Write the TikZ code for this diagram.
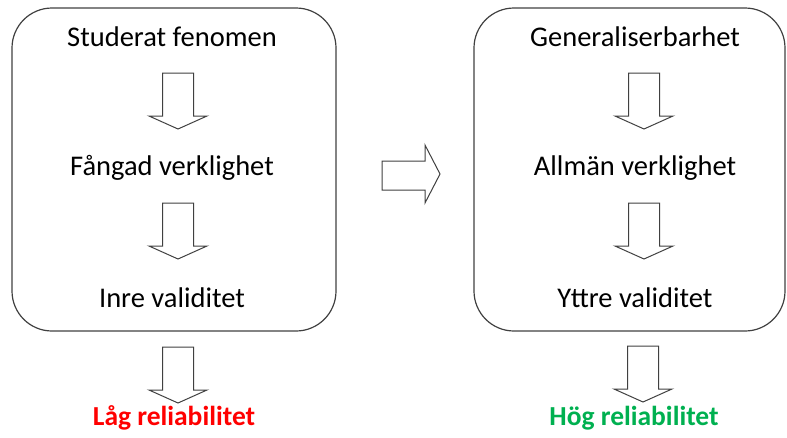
\documentclass[tikz,border=0pt]{standalone}
\usepackage{fontspec}
\setmainfont{Carlito}
\definecolor{lowred}{HTML}{FF0000}
\definecolor{highgreen}{HTML}{00B050}
\definecolor{frame}{HTML}{404040}
\begin{document}
\begin{tikzpicture}[x=1pt,y=-1pt,
  panel/.style={draw=frame,line width=1.2pt,rounded corners=40pt},
  label/.style={font=\fontsize{28.5}{32}\selectfont,inner sep=0pt,anchor=center},
  result/.style={font=\bfseries\fontsize{27.5}{31}\selectfont,inner sep=0pt,anchor=center},
  blockarrow/.style={draw=frame,line width=1pt,line join=miter,fill=white}]
\useasboundingbox (0,0) rectangle (787,437);

% downward block arrow: centre x, top y
\newcommand\downblock[2]{%
  \draw[blockarrow] (#1-15.5,#2) -- (#1+15.5,#2) -- (#1+15.5,#2+43) -- (#1+29,#2+43)
    -- (#1,#2+56) -- (#1-29,#2+43) -- (#1-15.5,#2+43) -- cycle;}

% the two panels
\draw[panel] (12,8) rectangle (336,331);
\draw[panel] (474,8) rectangle (785,331);

% left panel
\node[label] (stud) at (172,37) {Studerat fenomen};
\node[label] (fang) at (172,168) {Fångad verklighet};
\node[label] (inre) at (172,298) {Inre validitet};
\downblock{178}{73}
\downblock{178}{203}

% right panel
\node[label] (gen) at (635,37) {Generaliserbarhet};
\node[label] (allm) at (635,168) {Allmän verklighet};
\node[label] (yttre) at (635,298) {Yttre validitet};
\downblock{644}{73}
\downblock{644}{203}

% arrow between the panels
\draw[blockarrow] (382,161) -- (425,161) -- (425,145) -- (440,174) -- (425,203)
  -- (425,190) -- (382,190) -- cycle;

% results below the panels
\downblock{178}{347}
\downblock{643}{346}
\node[result,text=lowred] (lag) at (174,418) {Låg reliabilitet};
\node[result,text=highgreen] (hog) at (634,418) {Hög reliabilitet};
\end{tikzpicture}
\end{document}
